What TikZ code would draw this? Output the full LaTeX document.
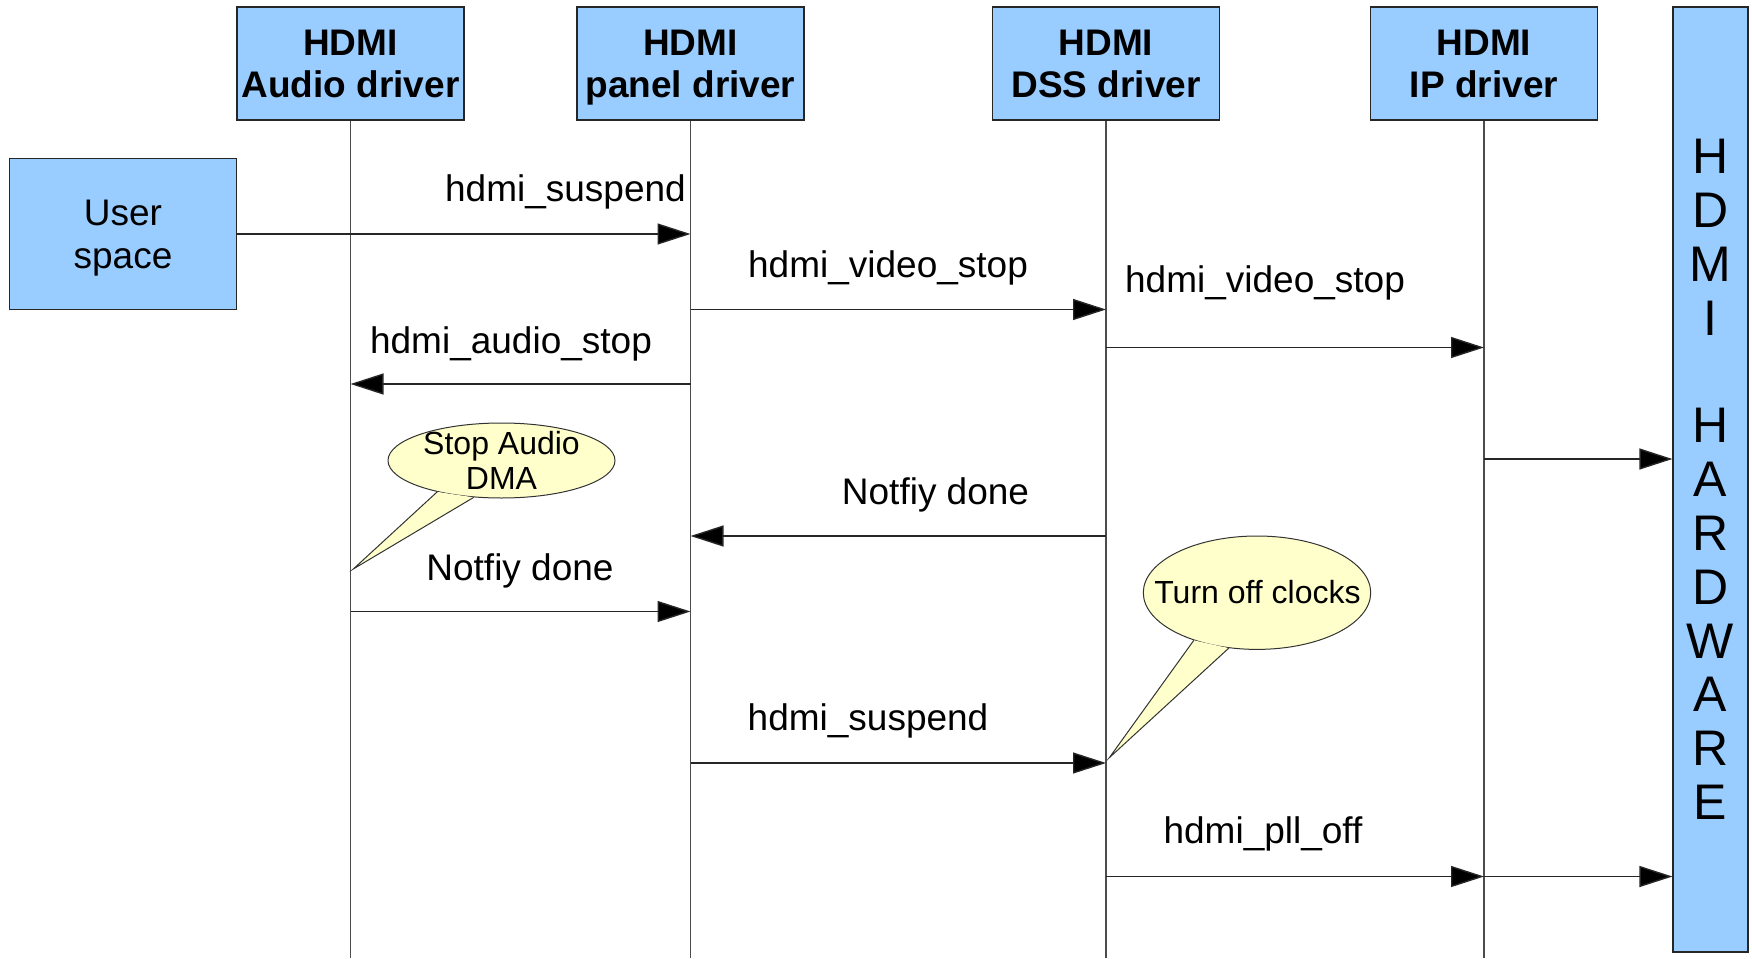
\documentclass[tikz,border=0pt]{standalone}
\usepackage{fontspec}
\setmainfont{Liberation Sans}
\usetikzlibrary{arrows.meta,shapes.geometric}

\definecolor{boxblue}{HTML}{99CCFF}
\definecolor{noteyellow}{HTML}{FFFFCC}

\begin{document}
\begin{tikzpicture}[x=1pt,y=-1pt,
  actor/.style={draw=black!85, fill=boxblue, line width=1.2pt,
    minimum width=227pt, minimum height=113pt, inner sep=0pt, align=center,
    font=\fontsize{37}{42}\selectfont\bfseries},
  lifeline/.style={draw=black!70, line width=1.2pt},
  msg/.style={draw=black!85, line width=1.4pt,
    -{Triangle[length=33pt,width=21pt,fill=black]}},
  lbl/.style={font=\fontsize{37}{42}\selectfont, inner sep=0pt},
  bubble/.style={ellipse, draw=black!80, fill=noteyellow, line width=1pt,
    inner sep=0pt},
  tail/.style={draw=black!80, fill=noteyellow, line width=1pt, line join=miter},
  bubbletext/.style={font=\fontsize{32}{35}\selectfont, align=center, inner sep=0pt},
]
\useasboundingbox (0,0) rectangle (1752,958);

% participants
\node[actor] (aud) at (350.5,63.5) {HDMI\\Audio driver};
\node[actor] (pan) at (690.5,63.5) {HDMI\\\smash{panel driver}};
\node[actor] (dss) at (1106,63.5) {HDMI\\DSS driver};
\node[actor] (ip)  at (1484,63.5) {HDMI\\IP driver};
\node[actor, minimum height=150.6pt, font=\fontsize{37}{43}\selectfont] (usr) at (123,234) {User\\\smash{space}};
\node[actor, minimum width=75pt, minimum height=945pt,
      font=\fontsize{50}{53.8}\selectfont] (hw) at (1710.5,479.5)
      {H\\D\\M\\I\\[53.8pt]H\\A\\R\\D\\W\\A\\R\\E};

% lifelines
\coordinate (bot) at (0,958);
\foreach \n in {aud,pan,dss,ip}
  \draw[lifeline] (\n.south) -- (\n.south |- bot);

% message rows
\coordinate (r1) at (0,234);
\coordinate (r2) at (0,309.5);
\coordinate (r3) at (0,347.5);
\coordinate (r4) at (0,384);
\coordinate (r5) at (0,459);
\coordinate (r6) at (0,536);
\coordinate (r7) at (0,611.5);
\coordinate (r8) at (0,763);
\coordinate (r9) at (0,876.5);

% messages
\draw[msg] (usr.east |- r1) -- (pan.south |- r1);
\draw[msg] (pan.south |- r2) -- (dss.south |- r2);
\draw[msg] (dss.south |- r3) -- (ip.south |- r3);
\draw[msg] (pan.south |- r4) -- (aud.south |- r4);
\draw[msg] (ip.south |- r5) -- (hw.west |- r5);
\draw[msg] (dss.south |- r6) -- (pan.south |- r6);
\draw[msg] (aud.south |- r7) -- (pan.south |- r7);
\draw[msg] (pan.south |- r8) -- (dss.south |- r8);
\draw[msg] (dss.south |- r9) -- (ip.south |- r9);
\draw[msg] (ip.south |- r9) -- (hw.west |- r9);

% message labels
\node[lbl] (l1) at (565.5,192) {hdmi\_suspend};
\node[lbl] (l2) at (888,268) {hdmi\_video\_stop};
\node[lbl] (l3) at (1265,283) {hdmi\_video\_stop};
\node[lbl] (l4) at (511,343.5) {hdmi\_audio\_stop};
\node[lbl] (l5) at (935.5,495) {Notfiy done};
\node[lbl] (l6) at (520,570.5) {Notfiy done};
\node[lbl] (l7) at (868,721) {hdmi\_suspend};
\node[lbl] (l8) at (1263,834) {hdmi\_pll\_off};

% callout: audio DMA
\node[bubble, minimum width=227pt, minimum height=75pt] (nA) at (501.5,460.5) {};
\coordinate (nAtip) at (353.3,569);
\filldraw[tail] (nA.206) -- (nAtip) -- (nA.233);
\node[bubbletext] (tA) at (501.5,460.5) {Stop Audio\\DMA};

% callout: clocks
\node[bubble, minimum width=227.4pt, minimum height=113.4pt] (nB) at (1257,592.7) {};
\coordinate (nBtip) at (1109.3,757.7);
\filldraw[tail] (nB.217) -- (nBtip) -- (nB.243);
\node[bubbletext] (tB) at (1257.5,592) {Turn off clocks};
\end{tikzpicture}
\end{document}
